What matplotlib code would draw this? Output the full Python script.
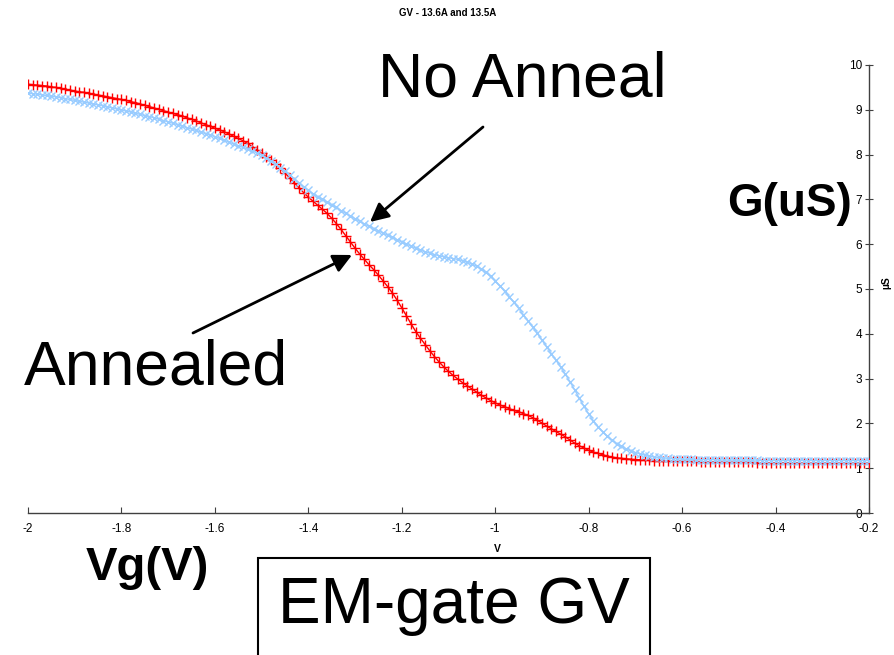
import numpy as np
import matplotlib
matplotlib.use('Agg')
import matplotlib.pyplot as plt
from matplotlib.patches import Rectangle

plt.rcParams['font.family'] = ['Liberation Sans', 'DejaVu Sans']

# gate voltage, 0.01 V steps from -2.00 to -0.20
vg = np.round(np.arange(-2.0, -0.195, 0.01), 2)

# annealed sample (red)
g_annealed = [
    9.57, 9.56, 9.55, 9.54, 9.53, 9.51, 9.50, 9.48, 9.46, 9.44,
    9.42, 9.40, 9.39, 9.37, 9.35, 9.33, 9.31, 9.29, 9.27, 9.25,
    9.23, 9.21, 9.18, 9.16, 9.13, 9.10, 9.07, 9.04, 9.01, 8.98,
    8.95, 8.92, 8.89, 8.86, 8.82, 8.79, 8.75, 8.71, 8.67, 8.63,
    8.59, 8.55, 8.51, 8.46, 8.41, 8.36, 8.31, 8.25, 8.18, 8.11,
    8.03, 7.95, 7.87, 7.78, 7.69, 7.59, 7.48, 7.37, 7.26, 7.15,
    7.05, 6.96, 6.87, 6.78, 6.69, 6.58, 6.46, 6.33, 6.19, 6.05,
    5.91, 5.78, 5.66, 5.54, 5.43, 5.31, 5.18, 5.05, 4.91, 4.75,
    4.58, 4.40, 4.22, 4.05, 3.90, 3.76, 3.62, 3.49, 3.37, 3.26,
    3.16, 3.07, 2.99, 2.91, 2.84, 2.77, 2.70, 2.63, 2.57, 2.51,
    2.46, 2.41, 2.37, 2.33, 2.29, 2.26, 2.22, 2.18, 2.13, 2.07,
    2.01, 1.94, 1.88, 1.82, 1.76, 1.70, 1.63, 1.56, 1.50, 1.45,
    1.40, 1.36, 1.33, 1.30, 1.27, 1.25, 1.23, 1.22, 1.21, 1.20,
    1.19, 1.19, 1.18, 1.18, 1.17, 1.17, 1.17, 1.16, 1.16, 1.16,
    1.15, 1.15, 1.15, 1.15, 1.14, 1.14, 1.14, 1.14, 1.14, 1.13,
    1.13, 1.13, 1.13, 1.13, 1.13, 1.13, 1.12, 1.12, 1.12, 1.12,
    1.12, 1.12, 1.12, 1.12, 1.12, 1.12, 1.11, 1.11, 1.11, 1.11,
    1.11, 1.11, 1.11, 1.11, 1.11, 1.11, 1.11, 1.11, 1.11, 1.11,
    1.11,
]

# not annealed sample (light blue)
g_no_anneal = [
    9.37, 9.36, 9.35, 9.33, 9.32, 9.30, 9.29, 9.27, 9.25, 9.23,
    9.21, 9.19, 9.17, 9.15, 9.13, 9.11, 9.09, 9.07, 9.04, 9.02,
    9.00, 8.97, 8.95, 8.92, 8.90, 8.87, 8.85, 8.82, 8.79, 8.76,
    8.73, 8.70, 8.67, 8.64, 8.60, 8.57, 8.54, 8.50, 8.47, 8.44,
    8.40, 8.36, 8.32, 8.28, 8.24, 8.20, 8.16, 8.12, 8.08, 8.04,
    7.99, 7.93, 7.86, 7.79, 7.71, 7.63, 7.55, 7.46, 7.37, 7.28,
    7.20, 7.13, 7.06, 7.00, 6.94, 6.88, 6.82, 6.75, 6.69, 6.63,
    6.57, 6.51, 6.45, 6.40, 6.35, 6.30, 6.25, 6.20, 6.15, 6.10,
    6.05, 6.00, 5.96, 5.91, 5.87, 5.83, 5.80, 5.77, 5.74, 5.72,
    5.70, 5.68, 5.66, 5.63, 5.60, 5.56, 5.51, 5.45, 5.37, 5.28,
    5.18, 5.07, 4.95, 4.83, 4.70, 4.57, 4.43, 4.29, 4.15, 4.01,
    3.86, 3.71, 3.56, 3.41, 3.26, 3.10, 2.93, 2.75, 2.56, 2.38,
    2.21, 2.06, 1.93, 1.81, 1.71, 1.62, 1.55, 1.49, 1.43, 1.39,
    1.35, 1.32, 1.29, 1.27, 1.25, 1.24, 1.23, 1.22, 1.21, 1.21,
    1.20, 1.20, 1.20, 1.19, 1.19, 1.19, 1.19, 1.19, 1.18, 1.18,
    1.18, 1.18, 1.18, 1.18, 1.18, 1.18, 1.18, 1.17, 1.17, 1.17,
    1.17, 1.17, 1.17, 1.17, 1.17, 1.17, 1.17, 1.17, 1.17, 1.17,
    1.17, 1.17, 1.17, 1.17, 1.17, 1.17, 1.17, 1.17, 1.17, 1.17,
    1.17,
]

x_ticks = [-2, -1.8, -1.6, -1.4, -1.2, -1, -0.8, -0.6, -0.4, -0.2]
x_ticklabels = ['-2', '-1.8', '-1.6', '-1.4', '-1.2', '-1', '-0.8', '-0.6', '-0.4', '-0.2']
y_ticks = list(range(0, 11))

fig = plt.figure(figsize=(8.95, 6.55), dpi=100)
ax = fig.add_axes([28 / 895, 1 - 513 / 655, 841 / 895, 448 / 655])

ax.plot(vg, g_annealed, color='#FF0000', lw=1.0, marker='+', ms=7, mew=1.0, zorder=3)
ax.plot(vg, g_no_anneal, color='#99CCFF', lw=1.0, marker='x', ms=5.5, mew=1.0, zorder=4)

ax.set_xlim(-2, -0.2)
ax.set_ylim(0, 10)

# y axis sits at the right end of the x range, labels on its left side
ax.spines['left'].set_position(('data', -0.2))
ax.spines['right'].set_visible(False)
ax.spines['top'].set_visible(False)
for s in ['left', 'bottom']:
    ax.spines[s].set_color('#404040')
    ax.spines[s].set_linewidth(1.0)

ax.set_xticks(x_ticks)
ax.set_xticklabels(x_ticklabels)
ax.set_yticks(y_ticks)
ax.tick_params(axis='x', direction='in', length=4, colors='#404040', labelcolor='black',
               labelsize=8.5, pad=7)
ax.tick_params(axis='y', direction='inout', length=6, colors='#404040', labelcolor='black',
               labelsize=8.5, pad=2)

fig.text(0.5, 1 - 13 / 655, 'GV - 13.6A and 13.5A', ha='center', va='center',
         fontsize=7, fontweight='bold')
fig.text(886 / 895, 1 - 283 / 655, 'µS', ha='center', va='center', rotation=90,
         fontsize=7.5, fontweight='bold')
fig.text(497 / 895, 1 - 549 / 655, 'V', ha='center', va='center', fontsize=7.5, fontweight='bold')

# big slide annotations
fig.text(522 / 895, 1 - 80 / 655, 'No Anneal', ha='center', va='center', fontsize=45)
fig.text(156 / 895, 1 - 368 / 655, 'Annealed', ha='center', va='center', fontsize=45)
fig.text(790 / 895, 1 - 204 / 655, 'G(uS)', ha='center', va='center', fontsize=33,
         fontweight='bold')
fig.text(147 / 895, 1 - 568 / 655, 'Vg(V)', ha='center', va='center', fontsize=34,
         fontweight='bold')

fig.patches.append(Rectangle((258 / 895, -0.05), (650 - 258) / 895, (0.05 + 1 - 558 / 655),
                             transform=fig.transFigure, fill=False, edgecolor='black',
                             lw=1.5, zorder=5))
fig.text(454 / 895, 1 - 606 / 655, 'EM-gate GV', ha='center', va='center', fontsize=46)

arrow_kw = dict(arrowstyle='-|>', color='black', lw=2, mutation_scale=28, shrinkA=0, shrinkB=0)
ax.annotate('', xy=(370 / 895, 1 - 222 / 655), xycoords='figure fraction',
            xytext=(483 / 895, 1 - 127 / 655), textcoords='figure fraction',
            arrowprops=arrow_kw)
ax.annotate('', xy=(352 / 895, 1 - 255 / 655), xycoords='figure fraction',
            xytext=(193 / 895, 1 - 333 / 655), textcoords='figure fraction',
            arrowprops=arrow_kw)

plt.savefig('out.png', dpi=100)
